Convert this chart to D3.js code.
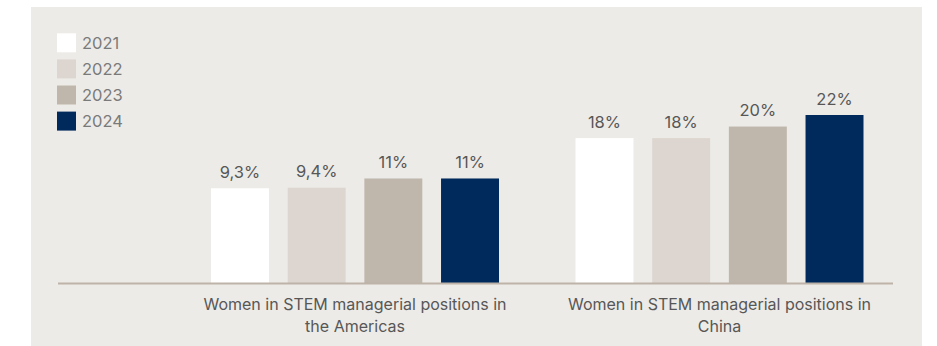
<!DOCTYPE html>
<html>
<head>
<meta charset="utf-8">
<script src="https://cdn.jsdelivr.net/npm/d3@7/dist/d3.min.js"></script>
<style>
  html, body { margin: 0; padding: 0; background: #ffffff; }
  svg { display: block; }
  text { font-family: "Inter", "Roboto", sans-serif; }
</style>
</head>
<body>
<svg id="chart" width="937" height="346"></svg>
<script>
// Categories, series and their labels
const categories = [
  ["Women in STEM managerial positions in", "the Americas"],
  ["Women in STEM managerial positions in", "China"]
];
const years = ["2021", "2022", "2023", "2024"];
const americas = [9.3, 9.4, 11, 11];
const china = [18, 18, 20, 22];
const valueLabels = [["9,3%", "9,4%", "11%", "11%"], ["18%", "18%", "20%", "22%"]];
const yearColors = ["#ffffff", "#ddd6d0", "#bfb7ac", "#002a5c"];

const series = [americas, china];

const svg = d3.select("#chart");
const W = 937, H = 346;

// Panel background
svg.append("rect")
  .attr("x", 31).attr("y", 7)
  .attr("width", 891).attr("height", H - 7)
  .attr("fill", "#edebe7");

const baseY = 283.5;
const catKeys = categories.map((c, i) => i);

const x0 = d3.scaleBand().domain(catKeys).range([172.75, 901.75]);
const x1 = d3.scaleBand().domain(years).range([38.25, 326.25]).paddingInner(0.244);
const y = d3.scaleLinear().domain([-7.2, 22]).range([baseY, 115]);

const groups = svg.append("g").selectAll("g")
  .data(catKeys)
  .join("g")
  .attr("transform", d => `translate(${x0(d)},0)`);

groups.selectAll("rect")
  .data(ci => series[ci].map((v, j) => ({ v, j, ci })))
  .join("rect")
  .attr("x", d => x1(years[d.j]))
  .attr("y", d => y(d.v))
  .attr("width", x1.bandwidth())
  .attr("height", d => baseY - y(d.v))
  .attr("fill", d => yearColors[d.j]);

groups.selectAll("text.val")
  .data(ci => series[ci].map((v, j) => ({ v, j, ci })))
  .join("text")
  .attr("class", "val")
  .attr("x", d => x1(years[d.j]) + x1.bandwidth() / 2)
  .attr("y", d => y(d.v) - 10.5)
  .attr("text-anchor", "middle")
  .attr("font-size", 16.5)
  .attr("fill", "#575757")
  .text(d => valueLabels[d.ci][d.j]);

// Baseline axis
svg.append("line")
  .attr("x1", 58).attr("x2", 893)
  .attr("y1", baseY).attr("y2", baseY)
  .attr("stroke", "#bdb3a8").attr("stroke-width", 2);

// Category labels (two lines each)
groups.append("text")
  .attr("x", x0.bandwidth() / 2)
  .attr("text-anchor", "middle")
  .attr("font-size", 16)
  .attr("fill", "#575757")
  .selectAll("tspan")
  .data(ci => categories[ci])
  .join("tspan")
  .attr("x", x0.bandwidth() / 2)
  .attr("y", (d, i) => 310 + i * 21.7)
  .text(d => d);

// Legend
const legend = svg.append("g").selectAll("g")
  .data(years)
  .join("g")
  .attr("transform", (d, i) => `translate(57,${33.3 + i * 26.1})`);

legend.append("rect")
  .attr("width", 19).attr("height", 19)
  .attr("fill", (d, i) => yearColors[i]);

legend.append("text")
  .attr("x", 25).attr("y", 15.7)
  .attr("font-size", 16.5)
  .attr("fill", "#7a7a7a")
  .text(d => d);
</script>
</body>
</html>
